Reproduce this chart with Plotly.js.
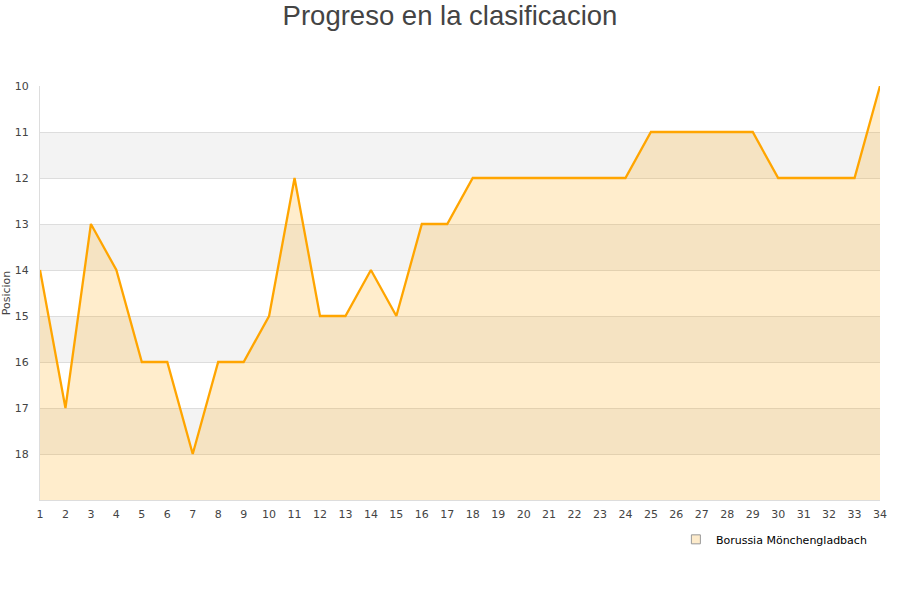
<!DOCTYPE html>
<html>
<head>
<meta charset="utf-8">
<script src="https://cdn.plot.ly/plotly-3.0.1.min.js"></script>
<style>body{margin:0;background:#fff}#chart{width:900px;height:600px}</style>
</head>
<body>
<div id="chart"></div>
<script>
var jornadas = [];
for (var i = 1; i <= 34; i++) jornadas.push(i);
var posiciones = [14, 17, 13, 14, 16, 16, 18, 16, 16, 15, 12, 15, 15, 14, 15, 13, 13, 12,
  12, 12, 12, 12, 12, 12, 11, 11, 11, 11, 11, 12, 12, 12, 12, 10];
var equipo = "Borussia Mönchengladbach";
var fondo = jornadas.map(function () { return 19; });

// bandas alternas
var shapes = [];
for (var b = 11; b < 19; b += 2) {
  shapes.push({type: "rect", xref: "paper", yref: "y", x0: 0, x1: 1, y0: b, y1: b + 1,
    fillcolor: "#f3f3f3", line: {width: 0}, layer: "below"});
}

var data = [
  {x: jornadas, y: fondo, mode: "lines", line: {width: 0}, hoverinfo: "skip", showlegend: false},
  {x: jornadas, y: posiciones, mode: "lines", fill: "tonexty",
    fillcolor: "rgba(255,165,0,0.2)", line: {color: "#ffa500", width: 2.3}, showlegend: false},
  {x: [null], y: [null], mode: "markers", name: equipo,
    marker: {symbol: "square", size: 9, color: "#fdebcb", line: {color: "#999", width: 1}}}
];

var layout = {
  width: 900, height: 600,
  margin: {l: 40, r: 20, t: 86, b: 100},
  paper_bgcolor: "#fff", plot_bgcolor: "#fff",
  font: {family: "DejaVu Sans, sans-serif", size: 11, color: "#444"},
  title: {text: "Progreso en la clasificacion", font: {family: "Liberation Sans, Arial, sans-serif", size: 27.5, color: "#444"},
    x: 0.5, xanchor: "center", y: 0.975, yanchor: "middle"},
  xaxis: {range: [1, 34], tickvals: jornadas, showgrid: false, zeroline: false,
    showline: true, linecolor: "#ddd", ticks: "", tickfont: {size: 11}, ticklabelstandoff: 4},
  yaxis: {range: [19, 10], tickvals: [10, 11, 12, 13, 14, 15, 16, 17, 18], showgrid: true,
    gridcolor: "#dddddd", zeroline: false, showline: true, linecolor: "#ddd", ticks: "",
    ticklabelstandoff: 8,
    title: {text: "Posicion", font: {size: 11}, standoff: 2}},
  shapes: shapes,
  showlegend: true,
  legend: {x: 0.757, xanchor: "left", y: -0.095, yanchor: "middle", orientation: "h",
    font: {size: 11, color: "#000"}, bgcolor: "rgba(0,0,0,0)"}
};

Plotly.newPlot("chart", data, layout, {displayModeBar: false});
</script>
</body>
</html>
